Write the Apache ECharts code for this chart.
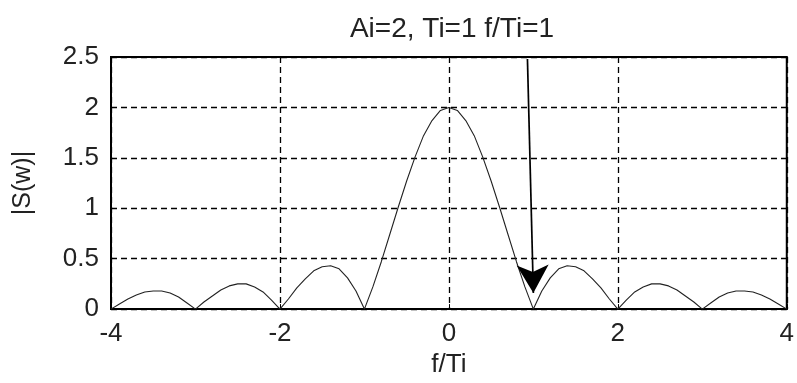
<!DOCTYPE html>
<html>
<head>
<meta charset="utf-8">
<script src="https://cdn.jsdelivr.net/npm/echarts@6/dist/echarts.min.js"></script>
<style>
html,body{margin:0;padding:0;background:#fff;}
#c{width:797px;height:383px;}
</style>
</head>
<body>
<div id="c"></div>
<script>
// Data
var titleText = 'Ai=2, Ti=1 f/Ti=1';
var xName = 'f/Ti';
var yName = '|S(w)|';
var xTicks = [-4, -2, 0, 2, 4];
var yTicks = [0, 0.5, 1, 1.5, 2, 2.5];
var fValues = [
  -4.0,-3.9,-3.8,-3.7,-3.6,-3.5,-3.4,-3.3,-3.2,-3.1,
  -3.0,-2.9,-2.8,-2.7,-2.6,-2.5,-2.4,-2.3,-2.2,-2.1,
  -2.0,-1.9,-1.8,-1.7,-1.6,-1.5,-1.4,-1.3,-1.2,-1.1,
  -1.0,-0.9,-0.8,-0.7,-0.6,-0.5,-0.4,-0.3,-0.2,-0.1,
  0.0,0.1,0.2,0.3,0.4,0.5,0.6,0.7,0.8,0.9,
  1.0,1.1,1.2,1.3,1.4,1.5,1.6,1.7,1.8,1.9,
  2.0,2.1,2.2,2.3,2.4,2.5,2.6,2.7,2.8,2.9,
  3.0,3.1,3.2,3.3,3.4,3.5,3.6,3.7,3.8,3.9,4.0
];
var sValues = [
  0.00,0.05,0.10,0.14,0.17,0.18,0.18,0.16,0.12,0.06,
  0.00,0.07,0.13,0.19,0.23,0.25,0.25,0.22,0.17,0.09,
  0.00,0.10,0.21,0.30,0.38,0.42,0.43,0.40,0.31,0.18,
  0.00,0.22,0.47,0.74,1.01,1.27,1.51,1.72,1.87,1.97,
  2.00,1.97,1.87,1.72,1.51,1.27,1.01,0.74,0.47,0.22,
  0.00,0.18,0.31,0.40,0.43,0.42,0.38,0.30,0.21,0.10,
  0.00,0.09,0.17,0.22,0.25,0.25,0.23,0.19,0.13,0.07,
  0.00,0.06,0.12,0.16,0.18,0.18,0.17,0.14,0.10,0.05,0.00
];
var arrowStart = [0.93, 2.48];
var arrowEnd = [1.0, 0.16];

var curve = fValues.map(function (f, i) { return [f, sValues[i]]; });
var fontFam = '"Liberation Sans", Arial, Helvetica, sans-serif';

var chart = echarts.init(document.getElementById('c'), null, {renderer: 'canvas'});
chart.setOption({
  animation: false,
  backgroundColor: '#ffffff',
  title: {
    text: titleText,
    left: 447,
    top: 10,
    textAlign: 'center',
    textStyle: {fontFamily: fontFam, fontSize: 28, fontWeight: 'normal', color: '#222'}
  },
  grid: {
    left: 111, right: 8, top: 57, bottom: 68,
    show: true, borderColor: '#000', borderWidth: 2, backgroundColor: 'transparent'
  },
  xAxis: {
    type: 'value',
    min: xTicks[0], max: xTicks[xTicks.length - 1], interval: 2,
    name: xName, nameLocation: 'middle', nameGap: 40,
    nameTextStyle: {fontFamily: fontFam, fontSize: 26, color: '#222'},
    axisLine: {show: true, onZero: false, lineStyle: {color: '#000', width: 2}},
    axisTick: {show: true, inside: true, length: 5, lineStyle: {color: '#000'}},
    axisLabel: {fontFamily: fontFam, fontSize: 26, color: '#222', margin: 12,
      formatter: function (v) { return xTicks.indexOf(v) >= 0 ? String(v) : ''; }},
    splitLine: {show: true, lineStyle: {color: '#000', type: [6, 4], width: 1.3}}
  },
  yAxis: {
    type: 'value',
    min: yTicks[0], max: yTicks[yTicks.length - 1], interval: 0.5,
    name: yName, nameLocation: 'middle', nameGap: 75,
    nameTextStyle: {fontFamily: fontFam, fontSize: 25, color: '#222'},
    axisLine: {show: true, onZero: false, lineStyle: {color: '#000', width: 2}},
    axisTick: {show: true, inside: true, length: 5, lineStyle: {color: '#000'}},
    axisLabel: {fontFamily: fontFam, fontSize: 26, color: '#222', margin: 12,
      formatter: function (v) { return yTicks.indexOf(v) >= 0 ? String(v) : ''; }},
    splitLine: {show: true, lineStyle: {color: '#000', type: [6, 4], width: 1.3}}
  },
  series: [{
    type: 'line',
    data: curve,
    showSymbol: false,
    symbol: 'none',
    lineStyle: {color: '#222', width: 1.1},
    z: 3,
    markLine: {
      silent: true,
      symbol: ['none', 'arrow'],
      symbolSize: [24, 28],
      label: {show: false},
      lineStyle: {color: '#000', type: 'solid', width: 1.7},
      data: [[{coord: arrowStart}, {coord: arrowEnd}]]
    }
  }]
});
</script>
</body>
</html>
